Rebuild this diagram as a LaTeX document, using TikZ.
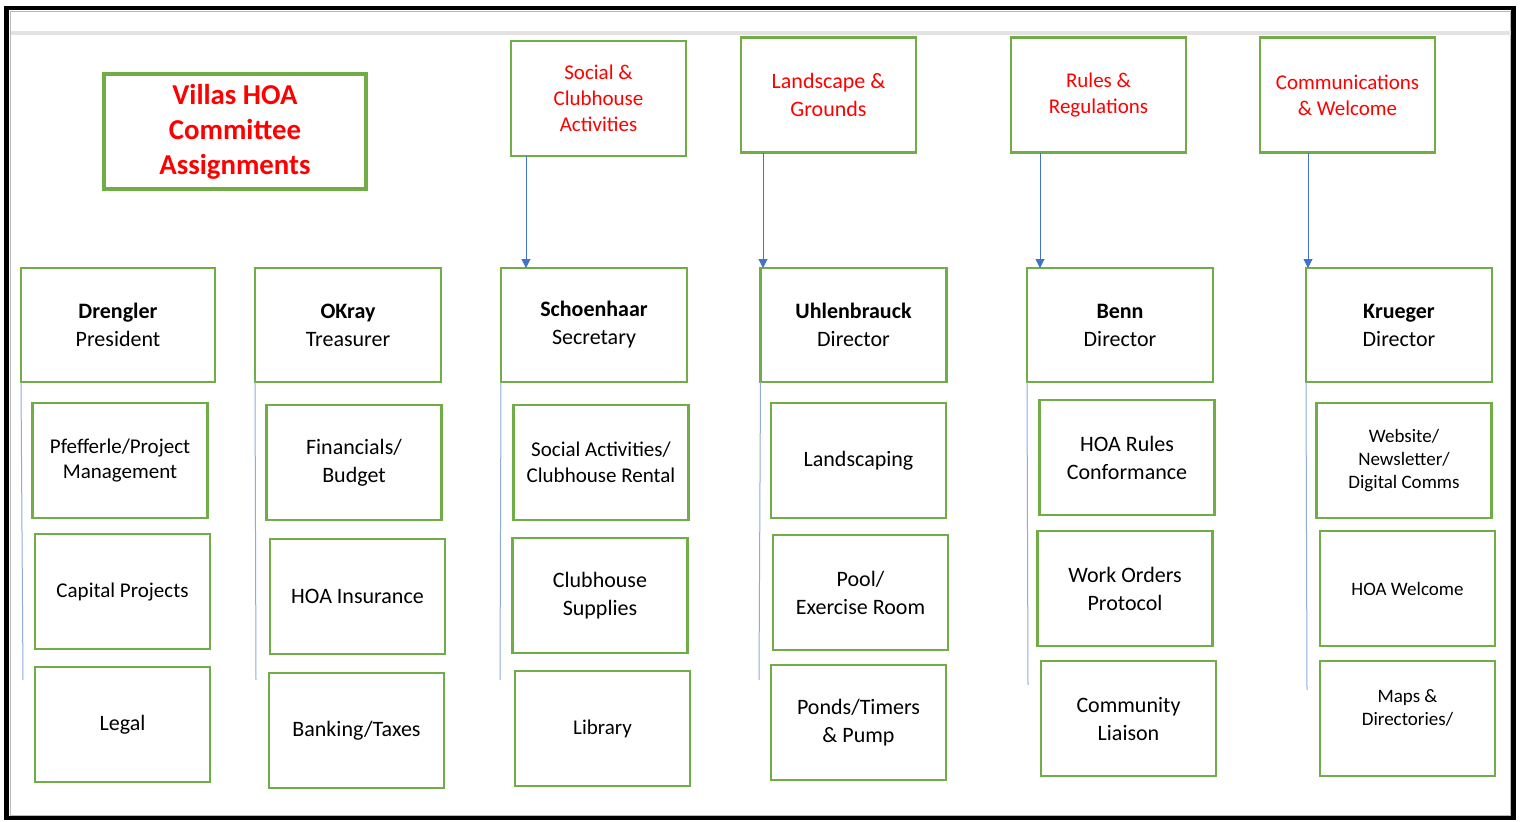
\documentclass[tikz,border=0pt]{standalone}
\usepackage{fontspec}
\setmainfont{Carlito}
\usepackage{tikz}
\usetikzlibrary{arrows.meta, positioning}
\definecolor{boxgreen}{HTML}{70AD47}
\definecolor{linkblue}{HTML}{4472C4}
\definecolor{spineblue}{HTML}{8FAADC}
\tikzstyle{duty} = [rectangle, minimum width=87.5pt, minimum height=57.5pt, text centered, align=center, draw=boxgreen, line width=1.1pt, outer sep=0pt, font=\fontsize{11}{14}\selectfont]
\tikzstyle{dutysm} = [duty, font=\fontsize{10.5}{12.8}\selectfont]
\tikzstyle{dutyxs} = [duty, font=\fontsize{9.5}{11.5}\selectfont]
\tikzstyle{lead} = [duty, minimum width=93pt, minimum height=57pt]
\tikzstyle{cmte} = [duty, text=red, font=\fontsize{10.5}{13}\selectfont]
\tikzstyle{arrow} = [linkblue, line width=0.5pt, -{Triangle[width=4.5pt,length=4.5pt]}]
\tikzstyle{spine} = [spineblue, line width=0.5pt]
\begin{document}
\begin{tikzpicture}[x=0.5pt, y=-0.5pt]
\useasboundingbox (0,0) rectangle (1522,821);

% Frame
\draw [line width=2.4pt] (6.5,8) rectangle (1513.5,818);
\draw [gray!55, line width=0.4pt] (10.5,11) rectangle (1510.5,815.5);
\draw [gray!22, line width=2pt] (10.5,32.5) -- (1510.5,32.5);

% Title
\node (title) [duty, minimum width=131pt, line width=1.7pt, text=red, font=\bfseries\fontsize{14.4}{17.5}\selectfont] at (235,131.5) {Villas HOA\\Committee\\Assignments};

% Committees
\node (social) [cmte] at (598.5,98.5) {Social \&\\Clubhouse\\Activities};
\node (landscape) [cmte, font=\fontsize{11}{14}\selectfont] at (828.5,95) {Landscape \&\\Grounds};
\node (rules) [cmte] at (1098.5,95) {Rules \&\\Regulations};
\node (comms) [cmte] at (1347.5,95) {Communications\\\& Welcome};

% Board members
\node (drengler) [lead, minimum width=97pt] at (118,325) {\textbf{Drengler}\\President};
\node (okray) [lead] at (348,325) {\textbf{OKray}\\Treasurer};
\node (schoenhaar) [lead] at (594,325) {\textbf{Schoenhaar}\\Secretary};
\node (uhlenbrauck) [lead] at (853.5,325) {\textbf{Uhlenbrauck}\\Director};
\node (benn) [lead] at (1120,325) {\textbf{Benn}\\Director};
\node (krueger) [lead] at (1399,325) {\textbf{Krueger}\\Director};

% Duties
\node (pfefferle) [dutysm, below=10.5pt of drengler, xshift=1pt] {Pfefferle/Project\\Management};
\node (capital) [dutysm, below=8pt of pfefferle, xshift=1.25pt] {Capital Projects};
\node (legal) [duty, below=9pt of capital] {Legal};

\node (financials) [duty, below=11.5pt of okray, xshift=3pt] {Financials/\\Budget};
\node (insurance) [duty, below=9.5pt of financials, xshift=1.75pt] {HOA Insurance};
\node (banking) [duty, below=9.5pt of insurance, xshift=-0.5pt] {Banking/Taxes};

\node (socact) [dutysm, below=11.5pt of schoenhaar, xshift=3.5pt] {Social Activities/\\Clubhouse Rental};
\node (supplies) [duty, below=9pt of socact, xshift=-0.5pt] {Clubhouse\\Supplies};
\node (library) [dutysm, below=9pt of supplies, xshift=1.25pt] {Library};

\node (landscaping) [duty, below=10.5pt of uhlenbrauck, xshift=2.5pt] {Landscaping};
\node (pool) [duty, below=8.5pt of landscaping, xshift=1pt] {Pool/\\Exercise Room};
\node (ponds) [duty, below=7.5pt of pool, xshift=-1pt] {Ponds/Timers\\\& Pump};

\node (conform) [duty, below=9pt of benn, xshift=3.5pt] {HOA Rules\\Conformance};
\node (workorders) [duty, below=8pt of conform, xshift=-1pt] {Work Orders\\Protocol};
\node (liaison) [duty, below=7.5pt of workorders, xshift=1.75pt] {Community\\Liaison};

\node (website) [dutyxs, below=10.5pt of krueger, xshift=2.5pt] {Website/\\Newsletter/\\Digital Comms};
\node (welcome) [dutyxs, below=6.5pt of website, xshift=1.75pt] {HOA Welcome};
\node (maps) [dutyxs, below=7.5pt of welcome] {Maps \&\\Directories/\\\mbox{}};

% Arrows
\draw [arrow] ([xshift=7.5pt]social.south west) -- ([xshift=7.5pt]social.south west |- schoenhaar.north);
\draw [arrow] ([xshift=11pt]landscape.south west) -- ([xshift=11pt]landscape.south west |- uhlenbrauck.north);
\draw [arrow] ([xshift=14.5pt]rules.south west) -- ([xshift=14.5pt]rules.south west |- benn.north);
\draw [arrow] ([xshift=24pt]comms.south west) -- ([xshift=24pt]comms.south west |- krueger.north);

% Spines
\coordinate (end1) at (23,680);
\coordinate (end2) at (256,680);
\coordinate (end3) at (500,680);
\coordinate (end4) at (759,680);
\coordinate (end5) at (1028,685);
\coordinate (end6) at (1307,690);
\draw [spine] (drengler.south west) -- (end1);
\draw [spine] (okray.south west) -- (end2);
\draw [spine] (schoenhaar.south west) -- (end3);
\draw [spine] (uhlenbrauck.south west) -- (end4);
\draw [spine] (benn.south west) -- (end5);
\draw [spine] (krueger.south west) -- (end6);

\end{tikzpicture}
\end{document}
